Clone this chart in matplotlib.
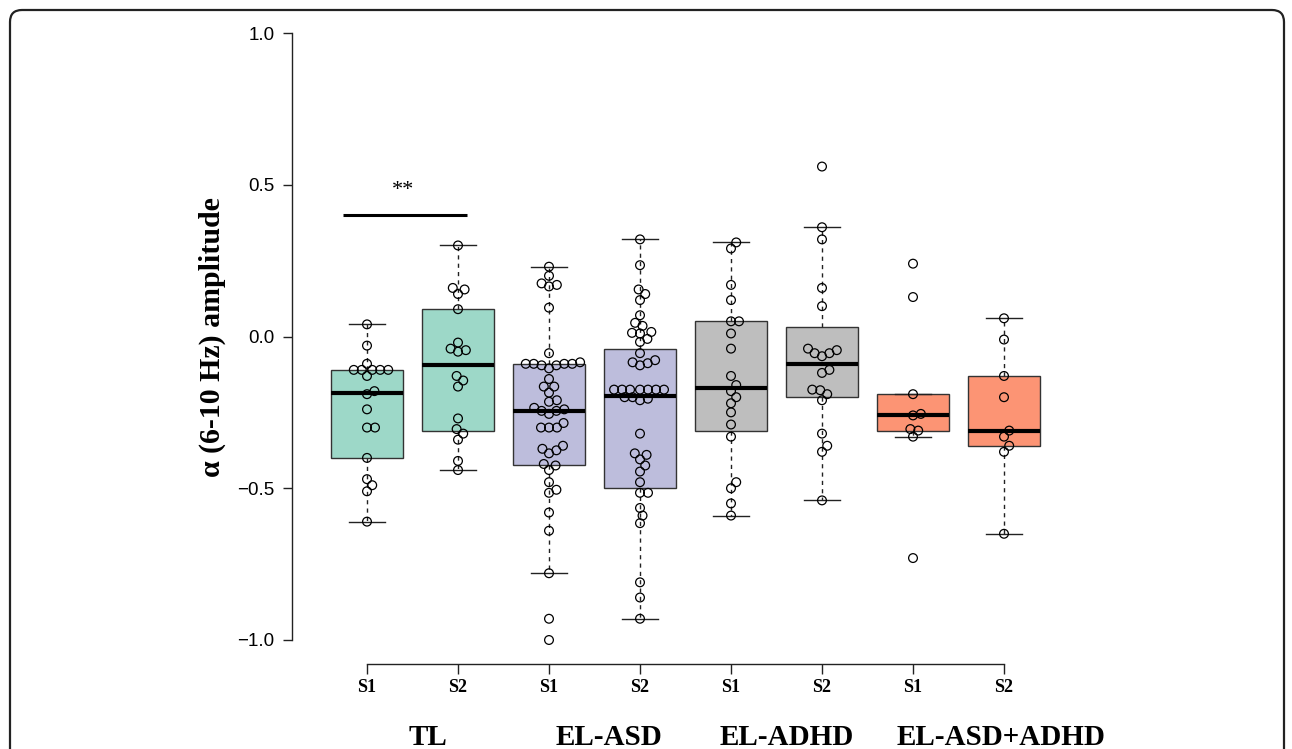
import matplotlib

matplotlib.use("Agg")
import matplotlib.pyplot as plt
from matplotlib.patches import FancyBboxPatch
from matplotlib.transforms import IdentityTransform
import numpy as np

# ==========================================
# Data
# ==========================================

GROUPS = ["TL", "EL-ASD", "EL-ADHD", "EL-ASD+ADHD"]
SESSIONS = ["S1", "S2"]
GROUP_COLORS = ["#9dd8c8", "#bdbddc", "#bebebe", "#fc9474"]

tl_s1 = [0.04, -0.03, -0.09, -0.11, -0.11, -0.11, -0.11, -0.11, -0.13, -0.18,
         -0.19, -0.24, -0.30, -0.30, -0.40, -0.47, -0.49, -0.51, -0.61]
tl_s2 = [0.30, 0.16, 0.155, 0.14, 0.09, -0.02, -0.04, -0.045, -0.05, -0.13,
         -0.145, -0.165, -0.27, -0.305, -0.32, -0.34, -0.41, -0.44]
asd_s1 = [0.23, 0.20, 0.175, 0.17, 0.165, 0.095, -0.055, -0.085, -0.09, -0.09,
          -0.09, -0.095, -0.095, -0.09, -0.105, -0.14, -0.165, -0.165, -0.185,
          -0.21, -0.215, -0.235, -0.24, -0.245, -0.245, -0.255, -0.285, -0.30,
          -0.30, -0.30, -0.36, -0.37, -0.375, -0.385, -0.42, -0.425, -0.44,
          -0.48, -0.505, -0.515, -0.58, -0.64, -0.78, -0.93, -1.00]
asd_s2 = [0.32, 0.235, 0.155, 0.14, 0.12, 0.07, 0.045, 0.035, 0.015, 0.01,
          0.012, -0.008, -0.018, -0.055, -0.085, -0.095, -0.088, -0.078,
          -0.175, -0.175, -0.175, -0.175, -0.175, -0.175, -0.175, -0.20,
          -0.205, -0.21, -0.20, -0.32, -0.385, -0.39, -0.405, -0.425, -0.445,
          -0.48, -0.515, -0.515, -0.565, -0.59, -0.615, -0.81, -0.86, -0.93]
adhd_s1 = [0.31, 0.29, 0.17, 0.12, 0.05, 0.05, 0.01, -0.04, -0.13, -0.16,
           -0.18, -0.20, -0.22, -0.25, -0.29, -0.33, -0.48, -0.50, -0.55, -0.59]
adhd_s2 = [0.56, 0.36, 0.32, 0.16, 0.10, -0.04, -0.055, -0.065, -0.055, -0.045,
           -0.11, -0.12, -0.175, -0.177, -0.19, -0.21, -0.32, -0.36, -0.38, -0.54]
both_s1 = [0.24, 0.13, -0.19, -0.255, -0.26, -0.305, -0.31, -0.33, -0.73]
both_s2 = [0.06, -0.01, -0.13, -0.20, -0.31, -0.33, -0.36, -0.38, -0.65]

ALL_POINTS = [tl_s1, tl_s2, asd_s1, asd_s2, adhd_s1, adhd_s2, both_s1, both_s2]

# box statistics: upper whisker, Q3, median, Q1, lower whisker
WHIS_HI = [0.04, 0.30, 0.23, 0.32, 0.31, 0.36, -0.19, 0.06]
Q3 = [-0.11, 0.09, -0.09, -0.04, 0.05, 0.03, -0.19, -0.13]
MEDIAN = [-0.185, -0.095, -0.245, -0.195, -0.17, -0.09, -0.26, -0.31]
Q1 = [-0.40, -0.31, -0.425, -0.50, -0.31, -0.20, -0.31, -0.36]
WHIS_LO = [-0.61, -0.44, -0.78, -0.93, -0.59, -0.54, -0.33, -0.65]

YTICKS = [-1.0, -0.5, 0.0, 0.5, 1.0]
SIG_LABEL = "**"

SERIF = ["Liberation Serif", "DejaVu Serif"]
SANS = ["Liberation Sans", "DejaVu Sans"]


# ==========================================
# Helpers
# ==========================================

def swarm_offsets(vals, x_unit, y_unit):
    """Simple beeswarm: place each point as close to the centre as possible."""
    ys = np.asarray(vals, dtype=float) / y_unit
    xs = np.zeros(len(ys))
    placed = []
    for i in np.argsort(ys, kind="stable"):
        y = ys[i]
        cands = [0.0]
        for px, py in placed:
            dy = abs(y - py)
            if dy < 1:
                dx = np.sqrt(1 - dy * dy)
                cands += [px + dx, px - dx]
        cands.sort(key=abs)
        for c in cands:
            if all((c - px) ** 2 + (y - py) ** 2 >= 0.999 for px, py in placed):
                break
        xs[i] = c
        placed.append((c, y))
    return xs * x_unit


# ==========================================
# Plot
# ==========================================

W, H = 1292, 749
fig = plt.figure(figsize=(W / 100, H / 100), dpi=100, facecolor="white")

# axes placed in pixel terms: y-axis line at x=292, x-axis line at y=664
ax_left, ax_right, ax_top, ax_bottom = 292, 1100, 33, 664
ax = fig.add_axes([ax_left / W, (H - ax_bottom) / H,
                   (ax_right - ax_left) / W, (ax_bottom - ax_top) / H])

px_per_x = 91.0
px_per_y = 303.5
x0 = 1 - (367 - ax_left) / px_per_x
ax.set_xlim(x0, x0 + (ax_right - ax_left) / px_per_x)
ax.set_ylim(1.0 - (ax_bottom - ax_top) / px_per_y, 1.0)

positions = np.arange(1, len(ALL_POINTS) + 1)
stats = []
for i in range(len(ALL_POINTS)):
    stats.append(dict(whishi=WHIS_HI[i], q3=Q3[i], med=MEDIAN[i],
                      q1=Q1[i], whislo=WHIS_LO[i], fliers=[]))

bp = ax.bxp(stats, positions=positions, widths=0.8, capwidths=0.4,
            patch_artist=True, showfliers=False,
            boxprops=dict(edgecolor="#333333", linewidth=1.0),
            medianprops=dict(color="black", linewidth=3.0),
            whiskerprops=dict(color="#222222", linewidth=1.0, linestyle=(0, (3, 3))),
            capprops=dict(color="#222222", linewidth=1.0))
for i, box in enumerate(bp["boxes"]):
    box.set_facecolor(GROUP_COLORS[i // 2])

# beeswarm points
spacing_px = 8.0
for pos, vals in zip(positions, ALL_POINTS):
    offs = swarm_offsets(vals, spacing_px / px_per_x, spacing_px / px_per_y)
    ax.scatter(pos + offs, vals, s=6.3 ** 2, facecolors="none",
               edgecolors="black", linewidths=0.9, zorder=4, clip_on=False)

# significance bar between TL sessions
ax.plot([0.74, 2.1], [0.40, 0.40], color="black", linewidth=2.2, solid_capstyle="butt")
ax.text(1.4, 0.48, SIG_LABEL, ha="center", va="center", fontsize=16, family=SERIF)

# axes styling (R-like detached axes)
for side in ["top", "right"]:
    ax.spines[side].set_visible(False)
ax.spines["left"].set_bounds(-1.0, 1.0)
ax.spines["bottom"].set_bounds(1, len(ALL_POINTS))
for side in ["left", "bottom"]:
    ax.spines[side].set_color("#222222")
    ax.spines[side].set_linewidth(1.0)

ax.set_yticks(YTICKS)
ax.set_yticklabels([f"{v:.1f}".replace("-", "\u2212") for v in YTICKS],
                   fontsize=13.5, family=SANS)
ax.tick_params(axis="y", length=6.5, width=1.0, pad=6, color="#222222")

ax.set_xticks(positions)
ax.set_xticklabels(SESSIONS * len(GROUPS), fontsize=13, fontweight="bold", family=SERIF)
ax.tick_params(axis="x", length=7, width=1.0, pad=4, color="#222222")

# group labels below the session labels
group_x = [1.67, 3.654, 5.615, 7.97]
for gx, name in zip(group_x, GROUPS):
    ax.text(gx, -0.116, name, transform=ax.get_xaxis_transform(), ha="center",
            va="center", fontsize=21, fontweight="bold", family=SERIF)

fig.text(212 / W, 1 - 337 / H, "\u03b1 (6-10 Hz) amplitude", rotation=90,
         ha="center", va="center", fontsize=21.5, fontweight="bold", family=SERIF)

# rounded outer frame
frame = FancyBboxPatch((10, -60), 1274, H - 10 + 60,
                       boxstyle="round,pad=0,rounding_size=12",
                       transform=IdentityTransform(), facecolor="none",
                       edgecolor="#222222", linewidth=1.6)
fig.patches.append(frame)

fig.savefig("out.png", dpi=100)
plt.close(fig)
